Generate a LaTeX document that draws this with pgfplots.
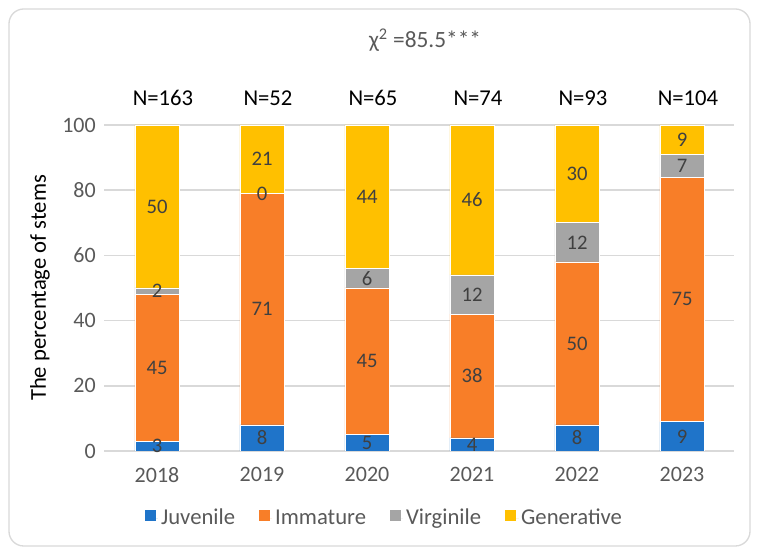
\documentclass[border=0pt]{standalone}
\usepackage{pgfplots}
\usepackage{pgfplotstable}
\usepackage{fontspec}
\setmainfont{Carlito}
\pgfplotsset{compat=1.18}

\definecolor{juv}{RGB}{31,116,201}
\definecolor{imm}{RGB}{248,126,40}
\definecolor{vir}{RGB}{165,165,165}
\definecolor{gen}{RGB}{255,192,0}
\definecolor{tickgray}{RGB}{89,89,89}
\definecolor{labgray}{RGB}{64,64,64}
\definecolor{gridgray}{RGB}{217,217,217}

% share of stems (%) per age state and year; N = number of stems
\pgfplotstableread{
x year J  I  V  G  N
0 2018 3  45 2  50 163
1 2019 8  71 0  21 52
2 2020 5  45 6  44 65
3 2021 4  38 12 46 74
4 2022 8  50 12 30 93
5 2023 9  75 7  9  104
}\stems

\pgfplotsset{
  stemaxis/.style={
    at={(0pt,0pt)}, anchor=south west, scale only axis,
    width=472.5pt, height=244.5pt,
    xmin=-0.5, xmax=5.5, ymin=0, ymax=100,
    /pgf/number format/assume math mode=true,
  },
  seglabel/.style={
    draw=none, mark=none, nodes near coords, point meta=explicit,
    every node near coord/.style={anchor=center, text=labgray,
      font=\fontsize{15.5}{18}\selectfont},
  },
}

\begin{document}
\begin{tikzpicture}
\path[use as bounding box] (-78.375pt,-78pt) rectangle (489.375pt,338.25pt);
\draw[gridgray, line width=1pt, rounded corners=11pt]
  (-71.625pt,-71.25pt) rectangle (484.125pt,331.5pt);

\begin{axis}[stemaxis,
  ybar stacked, bar width=33pt,
  xtick={0,...,5}, xticklabels={2018,2019,2020,2021,2022,2023},
  ytick={0,20,...,100},
  ymajorgrids, grid style={gridgray, line width=1.1pt},
  axis x line*=bottom, axis y line*=left,
  x axis line style={gridgray, line width=1.1pt, -},
  y axis line style={draw=none},
  major tick length=0pt,
  tick label style={font=\fontsize{16.5}{19}\selectfont, text=tickgray},
  xticklabel style={yshift=-9pt},
  yticklabel style={xshift=-3pt},
  ylabel={The percentage of stems},
  ylabel style={font=\fontsize{17}{20}\selectfont, text=black,
    at={(axis description cs:-0.1024,0.5)}, anchor=center},
  legend columns=4,
  legend style={at={(0.445,-0.2055)}, anchor=center, draw=none, fill=none,
    font=\fontsize{17}{20}\selectfont, text=tickgray,
    /tikz/every even column/.append style={column sep=16pt}},
  legend image code/.code={
    \fill[#1, draw=none] (0pt,-2pt) rectangle (8pt,6pt);
    \path[draw=none] (0pt,0pt) rectangle (10pt,0pt);},
]
\addplot[fill=juv, draw=white, line width=0.6pt] table[x=x, y=J] {\stems};
\addlegendentry{Juvenile}
\addplot[fill=imm, draw=white, line width=0.6pt] table[x=x, y=I] {\stems};
\addlegendentry{Immature}
\addplot[fill=vir, draw=white, line width=0.6pt] table[x=x, y=V] {\stems};
\addlegendentry{Virginile}
\addplot[fill=gen, draw=white, line width=0.6pt] table[x=x, y=G] {\stems};
\addlegendentry{Generative}
\end{axis}

% value labels centred in each segment, plus sample sizes above the bars
\begin{axis}[stemaxis, hide axis, clip=false]
\addplot[seglabel] table[x=x, y expr=0.5*\thisrow{J}, meta=J] {\stems};
\addplot[seglabel] table[x=x, y expr=\thisrow{J}+0.5*\thisrow{I}, meta=I] {\stems};
\addplot[seglabel] table[x=x, y expr=\thisrow{J}+\thisrow{I}+0.5*\thisrow{V}, meta=V] {\stems};
\addplot[seglabel] table[x=x, y expr=\thisrow{J}+\thisrow{I}+\thisrow{V}+0.5*\thisrow{G}, meta=G] {\stems};
\addplot[draw=none, mark=none, point meta=explicit,
  nodes near coords={N=\pgfmathprintnumber{\pgfplotspointmeta}},
  every node near coord/.style={anchor=center, xshift=4.5pt, yshift=20.25pt,
    text=black, font=\fontsize{17}{20}\selectfont}]
  table[x=x, y expr=\thisrow{J}+\thisrow{I}+\thisrow{V}+\thisrow{G}, meta=N] {\stems};
\end{axis}

\node[font=\fontsize{17.5}{21}\selectfont, text=tickgray] at (240.4pt,308.25pt)
  {χ\textsuperscript{2} =85.5***};
\end{tikzpicture}
\end{document}
